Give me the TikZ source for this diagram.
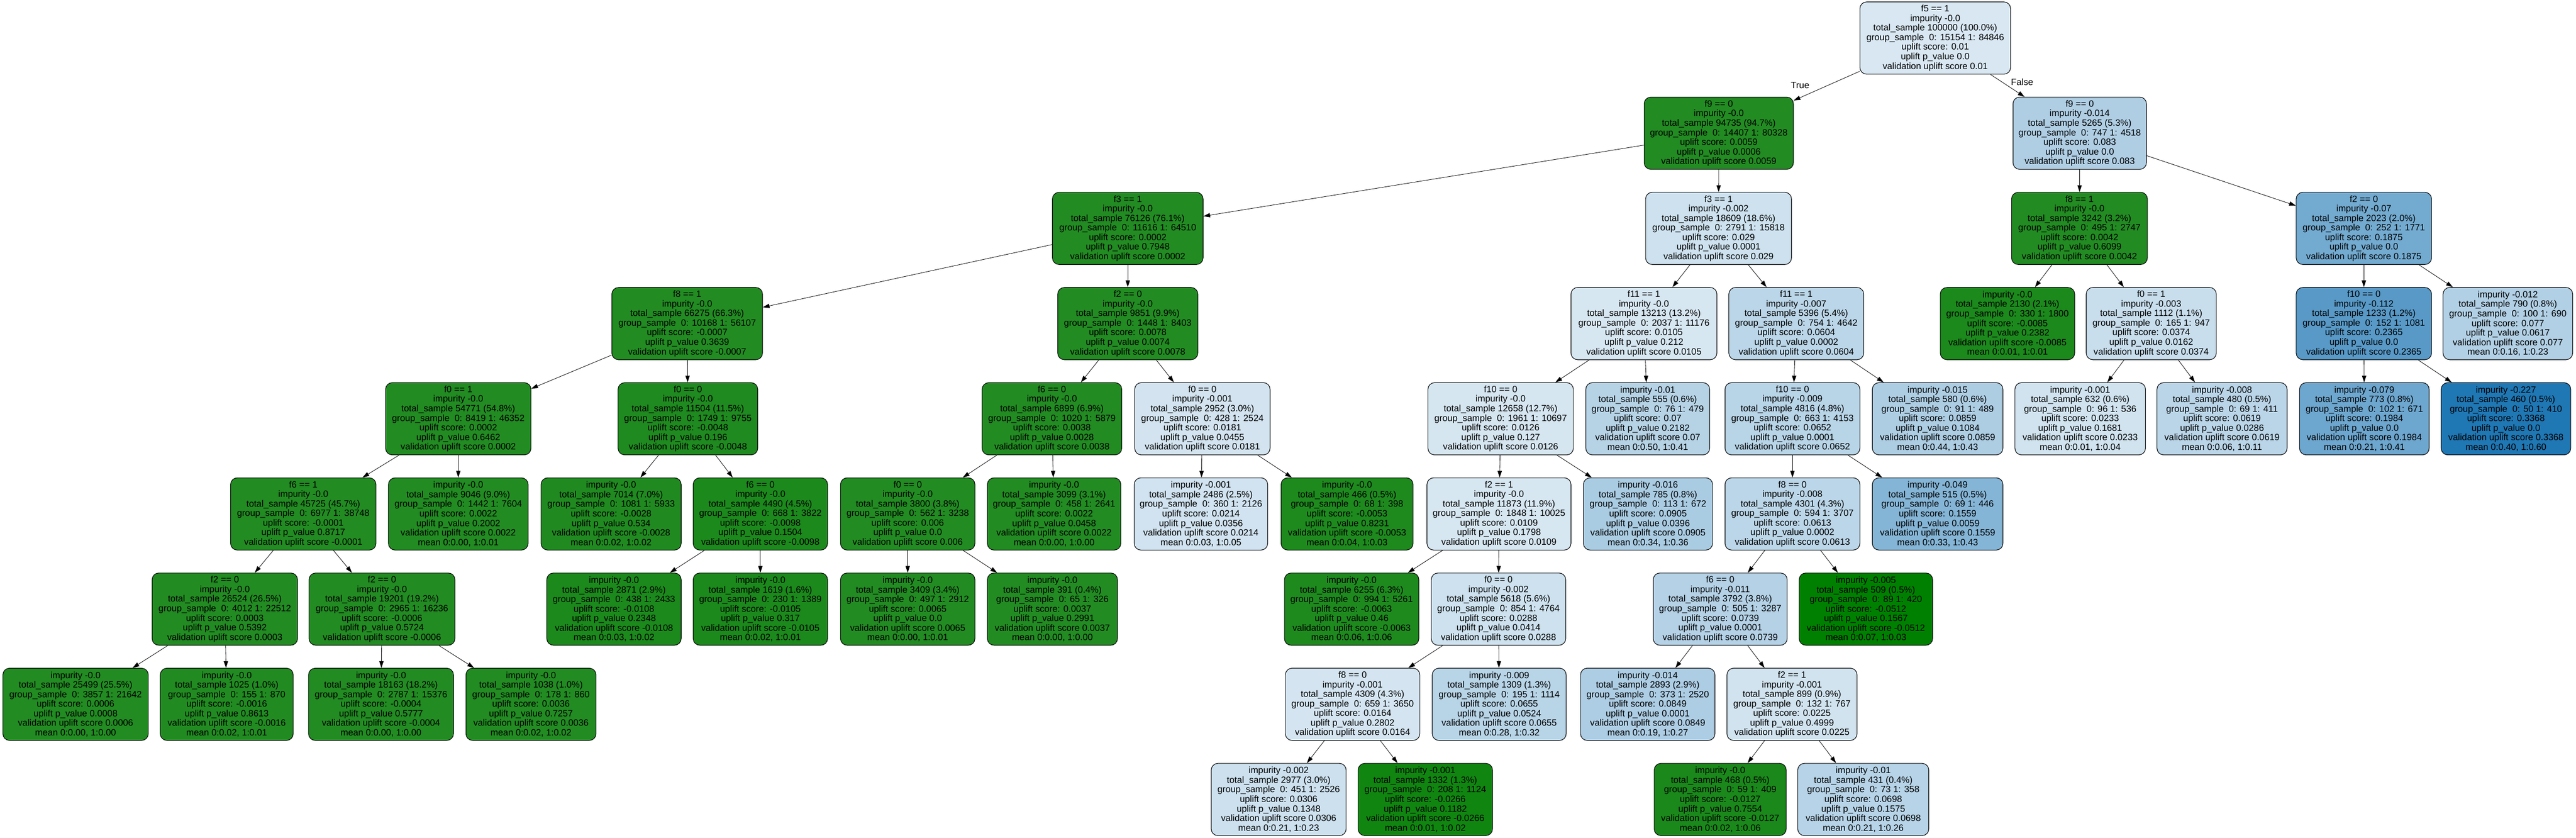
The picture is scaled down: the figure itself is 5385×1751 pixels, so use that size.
\documentclass[tikz,border=0pt]{standalone}
\usepackage{fontspec}
\setmainfont{Liberation Sans}
\usetikzlibrary{arrows.meta}
\definecolor{tb}{RGB}{31,119,180}
\definecolor{dg}{RGB}{0,128,0}
\definecolor{fg}{RGB}{34,139,34}
\newcommand\nodefont{\fontsize{19}{20}\selectfont}
\newcommand\inn[7]{#1\\impurity #2\\total\_sample #3\\group\_sample\ \ 0: #4 1: #5\\uplift score: #6\\uplift p\_value #7\\validation uplift score #6}
\newcommand\lf[7]{impurity #1\\total\_sample #2\\group\_sample\ \ 0: #3 1: #4\\uplift score: #5\\uplift p\_value #6\\validation uplift score #5\\mean #7}
\newcommand\tnode[6]{\node[tbox,#5,minimum width={(#3-#2)*1pt}] (#1) at ({(#2+#3)/2},{79.5+198.9*#4}) {#6};}
\tikzset{
  tbox/.style={draw=black, line width=1.2pt, rounded corners=14pt, minimum height=151pt, inner sep=0pt, align=center, font=\nodefont, text=black},
  bl/.style={fill=tb!#1!white},
  gr/.style={fill=dg!#1!fg},
  edge/.style={draw=black, line width=0.9pt, -{Triangle[length=14pt,width=9pt]}},
  elab/.style={font=\nodefont, inner sep=0pt}
}
\begin{document}
\begin{tikzpicture}[x=1pt,y=-1pt]
\useasboundingbox (0,0) rectangle (5385,1751);
% row 0
\tnode{n0}{3888}{4203}{0}{bl=17.5}{\inn{f5 == 1}{-0.0}{100000 (100.0\%)}{15154}{84846}{0.01}{0.0}}
% row 1
\tnode{n1}{3437}{3749}{1}{gr=0}{\inn{f9 == 0}{-0.0}{94735 (94.7\%)}{14407}{80328}{0.0059}{0.0006}}
\tnode{n2}{4208}{4487}{1}{bl=35.9}{\inn{f9 == 0}{-0.014}{5265 (5.3\%)}{747}{4518}{0.083}{0.0}}
% row 2
\tnode{n3}{2200}{2515}{2}{gr=0}{\inn{f3 == 1}{-0.0}{76126 (76.1\%)}{11616}{64510}{0.0002}{0.7948}}
\tnode{n4}{3440}{3745}{2}{bl=22.3}{\inn{f3 == 1}{-0.002}{18609 (18.6\%)}{2791}{15818}{0.029}{0.0001}}
\tnode{n5}{4205}{4489}{2}{gr=0}{\inn{f8 == 1}{-0.0}{3242 (3.2\%)}{495}{2747}{0.0042}{0.6099}}
\tnode{n6}{4800}{5083}{2}{bl=62.3}{\inn{f2 == 0}{-0.07}{2023 (2.0\%)}{252}{1771}{0.1875}{0.0}}
% row 3
\tnode{n7}{1279}{1594}{3}{gr=1.4}{\inn{f8 == 1}{-0.0}{66275 (66.3\%)}{10168}{56107}{-0.0007}{0.3639}}
\tnode{n8}{2211}{2504}{3}{gr=0}{\inn{f2 == 0}{-0.0}{9851 (9.9\%)}{1448}{8403}{0.0078}{0.0074}}
\tnode{n9}{3284}{3589}{3}{bl=17.7}{\inn{f11 == 1}{-0.0}{13213 (13.2\%)}{2037}{11176}{0.0105}{0.212}}
\tnode{n10}{3614}{3896}{3}{bl=30.2}{\inn{f11 == 1}{-0.007}{5396 (5.4\%)}{754}{4642}{0.0604}{0.0002}}
\tnode{n11}{4056}{4337}{3}{gr=16.6}{\lf{-0.0}{2130 (2.1\%)}{330}{1800}{-0.0085}{0.2382}{0:0.01, 1:0.01}}
\tnode{n12}{4361}{4633}{3}{bl=24.4}{\inn{f0 == 1}{-0.003}{1112 (1.1\%)}{165}{947}{0.0374}{0.0162}}
\tnode{n13}{4800}{5083}{3}{bl=74.7}{\inn{f10 == 0}{-0.112}{1233 (1.2\%)}{152}{1081}{0.2365}{0.0}}
\tnode{n14}{5107}{5378}{3}{bl=34.4}{\lf{-0.012}{790 (0.8\%)}{100}{690}{0.077}{0.0617}{0:0.16, 1:0.23}}
% row 4
\tnode{n15}{806}{1110}{4}{gr=0}{\inn{f0 == 1}{-0.0}{54771 (54.8\%)}{8419}{46352}{0.0002}{0.6462}}
\tnode{n16}{1292}{1584}{4}{gr=9.4}{\inn{f0 == 0}{-0.0}{11504 (11.5\%)}{1749}{9755}{-0.0048}{0.196}}
\tnode{n17}{2053}{2345}{4}{gr=0}{\inn{f6 == 0}{-0.0}{6899 (6.9\%)}{1020}{5879}{0.0038}{0.0028}}
\tnode{n18}{2372}{2655}{4}{bl=19.6}{\inn{f0 == 0}{-0.001}{2952 (3.0\%)}{428}{2524}{0.0181}{0.0455}}
\tnode{n19}{2985}{3289}{4}{bl=18.2}{\inn{f10 == 0}{-0.0}{12658 (12.7\%)}{1961}{10697}{0.0126}{0.127}}
\tnode{n20}{3315}{3574}{4}{bl=32.7}{\lf{-0.01}{555 (0.6\%)}{76}{479}{0.07}{0.2182}{0:0.50, 1:0.41}}
\tnode{n21}{3606}{3888}{4}{bl=31.5}{\inn{f10 == 0}{-0.009}{4816 (4.8\%)}{663}{4153}{0.0652}{0.0001}}
\tnode{n22}{3914}{4187}{4}{bl=36.7}{\lf{-0.015}{580 (0.6\%)}{91}{489}{0.0859}{0.1084}{0:0.44, 1:0.43}}
\tnode{n23}{4212}{4485}{4}{bl=20.9}{\lf{-0.001}{632 (0.6\%)}{96}{536}{0.0233}{0.1681}{0:0.01, 1:0.04}}
\tnode{n24}{4509}{4781}{4}{bl=30.6}{\lf{-0.008}{480 (0.5\%)}{69}{411}{0.0619}{0.0286}{0:0.06, 1:0.11}}
\tnode{n25}{4807}{5078}{4}{bl=65.1}{\lf{-0.079}{773 (0.8\%)}{102}{671}{0.1984}{0.0}{0:0.21, 1:0.41}}
\tnode{n26}{5103}{5374}{4}{bl=100}{\lf{-0.227}{460 (0.5\%)}{50}{410}{0.3368}{0.0}{0:0.40, 1:0.60}}
% row 5
\tnode{n27}{482}{786}{5}{gr=0.2}{\inn{f6 == 1}{-0.0}{45725 (45.7\%)}{6977}{38748}{-0.0001}{0.8717}}
\tnode{n28}{812}{1104}{5}{gr=0}{\lf{-0.0}{9046 (9.0\%)}{1442}{7604}{0.0022}{0.2002}{0:0.00, 1:0.01}}
\tnode{n29}{1131}{1424}{5}{gr=5.5}{\lf{-0.0}{7014 (7.0\%)}{1081}{5933}{-0.0028}{0.534}{0:0.02, 1:0.02}}
\tnode{n30}{1449}{1730}{5}{gr=19.1}{\inn{f6 == 0}{-0.0}{4490 (4.5\%)}{668}{3822}{-0.0098}{0.1504}}
\tnode{n31}{1757}{2038}{5}{gr=0}{\inn{f0 == 0}{-0.0}{3800 (3.8\%)}{562}{3238}{0.006}{0.0}}
\tnode{n32}{2064}{2343}{5}{gr=0}{\lf{-0.0}{3099 (3.1\%)}{458}{2641}{0.0022}{0.0458}{0:0.00, 1:0.00}}
\tnode{n33}{2371}{2650}{5}{bl=20.4}{\lf{-0.001}{2486 (2.5\%)}{360}{2126}{0.0214}{0.0356}{0:0.03, 1:0.05}}
\tnode{n34}{2678}{2954}{5}{gr=10.4}{\lf{-0.0}{466 (0.5\%)}{68}{398}{-0.0053}{0.8231}{0:0.04, 1:0.03}}
\tnode{n35}{2983}{3284}{5}{bl=17.8}{\inn{f2 == 1}{-0.0}{11873 (11.9\%)}{1848}{10025}{0.0109}{0.1798}}
\tnode{n36}{3310}{3580}{5}{bl=37.8}{\lf{-0.016}{785 (0.8\%)}{113}{672}{0.0905}{0.0396}{0:0.34, 1:0.36}}
\tnode{n37}{3606}{3888}{5}{bl=30.5}{\inn{f8 == 0}{-0.008}{4301 (4.3\%)}{594}{3707}{0.0613}{0.0002}}
\tnode{n38}{3914}{4187}{5}{bl=54.3}{\lf{-0.049}{515 (0.5\%)}{69}{446}{0.1559}{0.0059}{0:0.33, 1:0.43}}
% row 6
\tnode{n39}{318}{622}{6}{gr=0}{\inn{f2 == 0}{-0.0}{26524 (26.5\%)}{4012}{22512}{0.0003}{0.5392}}
\tnode{n40}{646}{951}{6}{gr=1.2}{\inn{f2 == 0}{-0.0}{19201 (19.2\%)}{2965}{16236}{-0.0006}{0.5724}}
\tnode{n41}{1143}{1424}{6}{gr=21.1}{\lf{-0.0}{2871 (2.9\%)}{438}{2433}{-0.0108}{0.2348}{0:0.03, 1:0.02}}
\tnode{n42}{1449}{1730}{6}{gr=20.5}{\lf{-0.0}{1619 (1.6\%)}{230}{1389}{-0.0105}{0.317}{0:0.02, 1:0.01}}
\tnode{n43}{1757}{2038}{6}{gr=0}{\lf{-0.0}{3409 (3.4\%)}{497}{2912}{0.0065}{0.0}{0:0.00, 1:0.01}}
\tnode{n44}{2064}{2336}{6}{gr=0}{\lf{-0.0}{391 (0.4\%)}{65}{326}{0.0037}{0.2991}{0:0.00, 1:0.00}}
\tnode{n45}{2685}{2966}{6}{gr=12.3}{\lf{-0.0}{6255 (6.3\%)}{994}{5261}{-0.0063}{0.46}{0:0.06, 1:0.06}}
\tnode{n46}{2992}{3273}{6}{bl=22.3}{\inn{f0 == 0}{-0.002}{5618 (5.6\%)}{854}{4764}{0.0288}{0.0414}}
\tnode{n47}{3456}{3736}{6}{bl=33.6}{\inn{f6 == 0}{-0.011}{3792 (3.8\%)}{505}{3287}{0.0739}{0.0001}}
\tnode{n48}{3761}{4040}{6}{gr=100}{\lf{-0.005}{509 (0.5\%)}{89}{420}{-0.0512}{0.1567}{0:0.07, 1:0.03}}
% row 7
\tnode{n49}{6}{310}{7}{gr=0}{\lf{-0.0}{25499 (25.5\%)}{3857}{21642}{0.0006}{0.0008}{0:0.00, 1:0.00}}
\tnode{n50}{335}{613}{7}{gr=3.1}{\lf{-0.0}{1025 (1.0\%)}{155}{870}{-0.0016}{0.8613}{0:0.02, 1:0.01}}
\tnode{n51}{645}{948}{7}{gr=0.8}{\lf{-0.0}{18163 (18.2\%)}{2787}{15376}{-0.0004}{0.5777}{0:0.00, 1:0.00}}
\tnode{n52}{974}{1246}{7}{gr=0}{\lf{-0.0}{1038 (1.0\%)}{178}{860}{0.0036}{0.7257}{0:0.02, 1:0.02}}
\tnode{n53}{2687}{2968}{7}{bl=19.1}{\inn{f8 == 0}{-0.001}{4309 (4.3\%)}{659}{3650}{0.0164}{0.2802}}
\tnode{n54}{2994}{3274}{7}{bl=31.5}{\lf{-0.009}{1309 (1.3\%)}{195}{1114}{0.0655}{0.0524}{0:0.28, 1:0.32}}
\tnode{n55}{3304}{3585}{7}{bl=36.4}{\lf{-0.014}{2893 (2.9\%)}{373}{2520}{0.0849}{0.0001}{0:0.19, 1:0.27}}
\tnode{n56}{3610}{3882}{7}{bl=20.7}{\inn{f2 == 1}{-0.001}{899 (0.9\%)}{132}{767}{0.0225}{0.4999}}
% row 8
\tnode{n57}{2532}{2814}{8}{bl=22.7}{\lf{-0.002}{2977 (3.0\%)}{451}{2526}{0.0306}{0.1348}{0:0.21, 1:0.23}}
\tnode{n58}{2839}{3120}{8}{gr=52}{\lf{-0.001}{1332 (1.3\%)}{208}{1124}{-0.0266}{0.1182}{0:0.01, 1:0.02}}
\tnode{n59}{3458}{3734}{8}{gr=24.8}{\lf{-0.0}{468 (0.5\%)}{59}{409}{-0.0127}{0.7554}{0:0.02, 1:0.06}}
\tnode{n60}{3758}{4032}{8}{bl=32.6}{\lf{-0.01}{431 (0.4\%)}{73}{358}{0.0698}{0.1575}{0:0.21, 1:0.26}}
% edges
\foreach \a/\b in {n0/n1,n0/n2,n1/n3,n1/n4,n2/n5,n2/n6,n3/n7,n3/n8,n4/n9,n4/n10,n5/n11,n5/n12,n6/n13,n6/n14,
  n7/n15,n7/n16,n8/n17,n8/n18,n9/n19,n9/n20,n10/n21,n10/n22,n12/n23,n12/n24,n13/n25,n13/n26,
  n15/n27,n15/n28,n16/n29,n16/n30,n17/n31,n17/n32,n18/n33,n18/n34,n19/n35,n19/n36,n21/n37,n21/n38,
  n27/n39,n27/n40,n30/n41,n30/n42,n31/n43,n31/n44,n35/n45,n35/n46,n37/n47,n37/n48,
  n39/n49,n39/n50,n40/n51,n40/n52,n46/n53,n46/n54,n47/n55,n47/n56,n53/n57,n53/n58,n56/n59,n56/n60}
  {\draw[edge] (\a) -- (\b);}
\node[elab] (ltrue) at (3763,178) {True};
\node[elab] (lfalse) at (4227,171) {False};
\end{tikzpicture}
\end{document}
